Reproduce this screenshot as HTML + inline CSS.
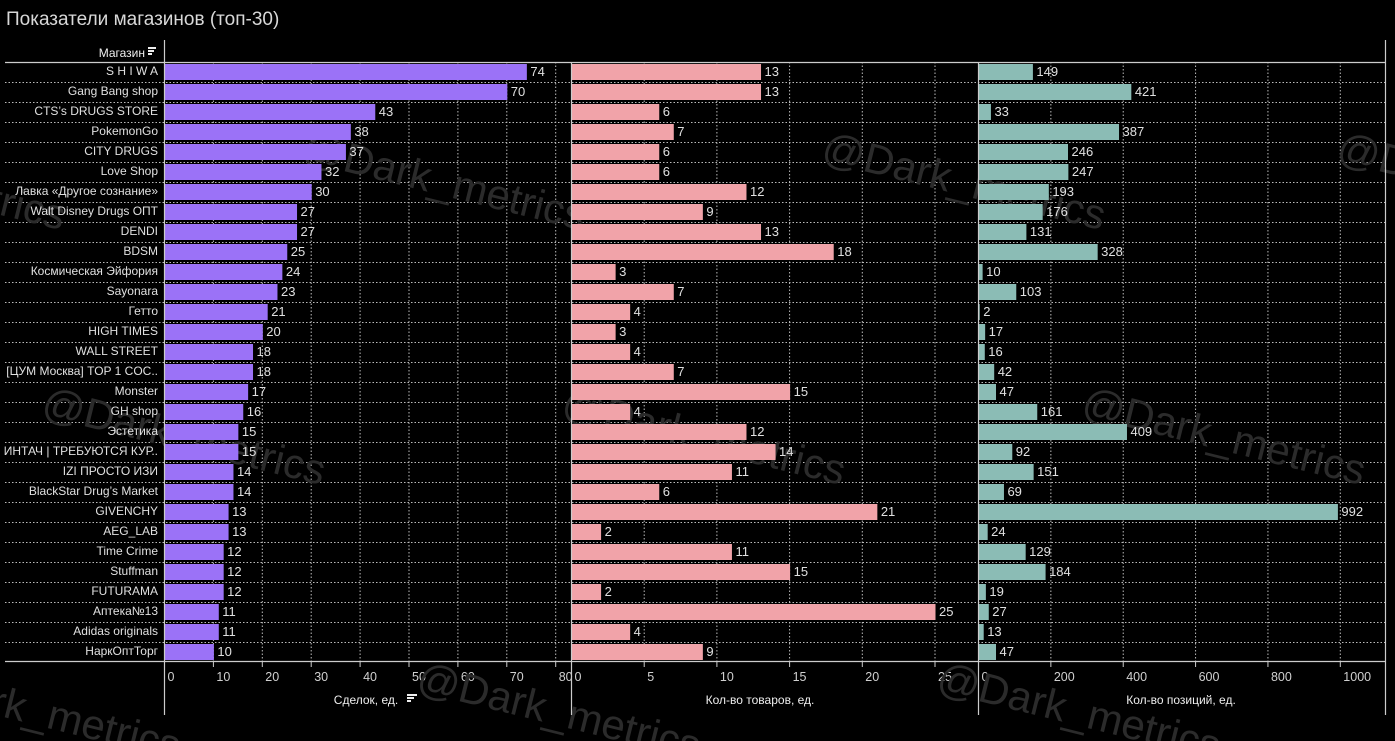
<!DOCTYPE html>
<html><head><meta charset="utf-8"><style>
html,body{margin:0;padding:0;background:#000;}
svg{display:block;font-family:"Liberation Sans","DejaVu Sans",sans-serif;}
</style></head><body>
<svg id="s" width="1395" height="741" viewBox="0 0 1395 741" xmlns="http://www.w3.org/2000/svg">
<rect width="1395" height="741" fill="#000"/>
<text x="6" y="25" font-size="19" fill="#d8d8d8">Показатели магазинов (топ-30)</text>
<text x="145" y="57" font-size="12" fill="#eee" text-anchor="end">Магазин</text>
<g fill="#eee"><rect x="148" y="47" width="8" height="2"/><rect x="148" y="50" width="6" height="2"/><rect x="148" y="53" width="4" height="2"/></g>
<g id="grid"></g>
<g font-size="42" fill="#2b2b2b">
<text transform="translate(300,160) rotate(14)">@Dark_metrics</text>
<text transform="translate(820,160) rotate(14)">@Dark_metrics</text>
<text transform="translate(1335,160) rotate(14)">@Dark_metrics</text>
<text transform="translate(-220,160) rotate(14)">@Dark_metrics</text>
<text transform="translate(40,415) rotate(14)">@Dark_metrics</text>
<text transform="translate(560,415) rotate(14)">@Dark_metrics</text>
<text transform="translate(1080,415) rotate(14)">@Dark_metrics</text>
<text transform="translate(415,690) rotate(14)">@Dark_metrics</text>
<text transform="translate(935,690) rotate(14)">@Dark_metrics</text>
<text transform="translate(-105,690) rotate(14)">@Dark_metrics</text>
</g>
<g id="bars"></g>
<g stroke="#ccc" stroke-width="1.2">
<line x1="164.5" y1="40" x2="164.5" y2="715"/>
<line x1="571.5" y1="62" x2="571.5" y2="715"/>
<line x1="978.5" y1="62" x2="978.5" y2="715"/>
<line x1="1385.5" y1="40" x2="1385.5" y2="715"/>
<line x1="5" y1="62.5" x2="1386" y2="62.5"/>
<line x1="5" y1="661.5" x2="1386" y2="661.5"/>
</g>
<g font-size="12" fill="#eee" text-anchor="middle">
<text x="366" y="704">Сделок, ед.</text>
<text x="760" y="704">Кол-во товаров, ед.</text>
<text x="1181" y="704">Кол-во позиций, ед.</text>
</g>
<g fill="#eee"><rect x="407" y="694" width="10" height="2"/><rect x="407" y="697" width="7" height="2"/><rect x="407" y="700" width="4" height="2"/></g>
</svg>
<script>
var d=[["S H I W A",74,13,149],["Gang Bang shop",70,13,421],["CTS’s DRUGS STORE",43,6,33],["PokemonGo",38,7,387],["CITY DRUGS",37,6,246],["Love Shop",32,6,247],["Лавка «Другое сознание»",30,12,193],["Walt Disney Drugs ОПТ",27,9,176],["DENDI",27,13,131],["BDSM",25,18,328],["Космическая Эйфория",24,3,10],["Sayonara",23,7,103],["Гетто",21,4,2],["HIGH TIMES",20,3,17],["WALL STREET",18,4,16],["[ЦУМ Москва] TOP 1 COC..",18,7,42],["Monster",17,15,47],["GH shop",16,4,161],["Эстетика",15,12,409],["ИНТАЧ | ТРЕБУЮТСЯ КУР..",15,14,92],["IZI ПРОСТО ИЗИ",14,11,151],["BlackStar Drug’s Market",14,6,69],["GIVENCHY",13,21,992],["AEG_LAB",13,2,24],["Time Crime",12,11,129],["Stuffman",12,15,184],["FUTURAMA",12,2,19],["Аптека№13",11,25,27],["Adidas originals",11,4,13],["НаркОптТорг",10,9,47]];
var P=[{x0:164.5,k:4.89,c:"#9b72f7",t:[0,10,20,30,40,50,60,70,80]},{x0:571.5,k:14.54,c:"#f1a3a9",t:[0,5,10,15,20,25]},{x0:978.5,k:0.3618,c:"#8bbcb5",t:[0,200,400,600,800,1000]}];
var ns="http://www.w3.org/2000/svg",g=document.getElementById("grid"),b=document.getElementById("bars");
function el(p,n,a,txt){var e=document.createElementNS(ns,n);for(var k in a)e.setAttribute(k,a[k]);if(txt!=null)e.textContent=txt;p.appendChild(e);return e;}
for(var i=1;i<30;i++){var y=62+i*20+0.5;el(g,"line",{x1:5,x2:1385,y1:y,y2:y,stroke:"#bbb","stroke-width":1,"stroke-dasharray":"1.5,2"});}
P.forEach(function(p){p.t.forEach(function(t,j){var x=p.x0+t*p.k;if(j>0)el(g,"line",{x1:x,x2:x,y1:62,y2:661,stroke:"#bbb","stroke-width":1,"stroke-dasharray":"1.5,2"});el(g,"line",{x1:x,x2:x,y1:661,y2:667,stroke:"#ccc"});el(g,"text",{x:x+3,y:681,"font-size":12.5,fill:"#d0d0d0"},String(t));});});
d.forEach(function(r,i){var y=62+i*20;el(b,"text",{x:158,y:y+13,"font-size":12,fill:"#e0e0e0","text-anchor":"end"},r[0]);
for(var j=0;j<3;j++){var p=P[j],w=r[j+1]*p.k;el(b,"rect",{x:p.x0+0.5,y:y+2,width:w,height:16,fill:p.c});el(b,"text",{x:p.x0+w+4,y:y+14,"font-size":13,fill:"#e0e0e0"},String(r[j+1]));}});
</script>
</body></html>
